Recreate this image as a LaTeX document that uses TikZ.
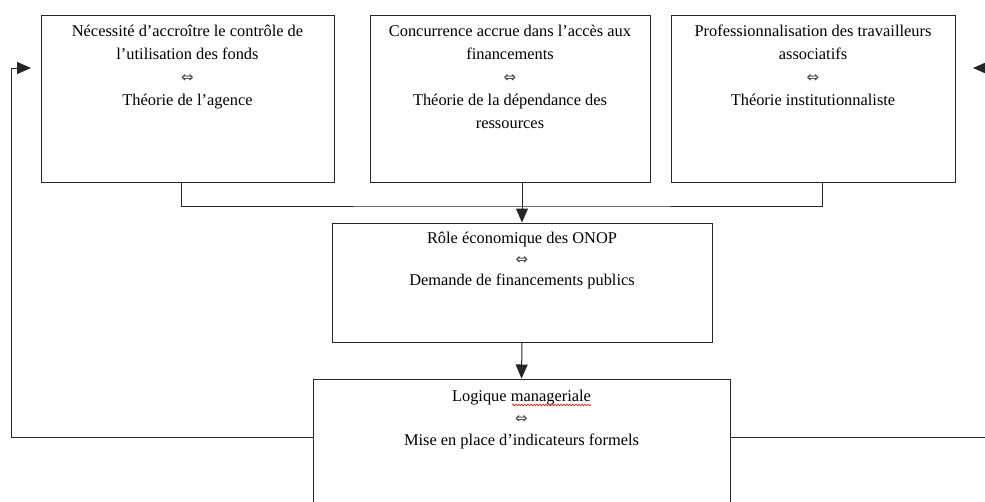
\documentclass[tikz,border=0pt]{standalone}
\usepackage{fontspec}
\setmainfont{Liberation Serif}
\newfontfamily\symfont{DejaVu Sans}
\usetikzlibrary{arrows.meta,decorations.pathmorphing}
\newcommand{\eqvsym}{{\symfont\fontsize{15}{13}\selectfont\color{black!75}⇔}}
\tikzset{
  box/.style={draw=black!85, line width=1pt, rectangle, inner sep=0pt},
  txt/.style={anchor=north, inner sep=0pt, align=center, font=\fontsize{16.4}{23}\selectfont},
  link/.style={line width=1pt, draw=black!85},
  arr/.style={link, -{Triangle[length=14pt,width=12pt]}},
}
\begin{document}
\begin{tikzpicture}[x=1pt,y=1pt]
\useasboundingbox (0,0) rectangle (985,-501);
\clip (0,0) rectangle (985,-501);
% boxes
\node[box, minimum width=293pt, minimum height=167pt] (b1) at (187.5,-98.5) {};
\node[box, minimum width=280pt, minimum height=167pt] (b2) at (510,-98.5) {};
\node[box, minimum width=284pt, minimum height=167pt] (b3) at (813,-98.5) {};
\node[box, minimum width=380pt, minimum height=119pt] (b4) at (522,-282.5) {};
\node[box, minimum width=417pt, minimum height=160pt] (b5) at (521.5,-459) {};
% texts
\node[txt] (t1) at ([yshift=-10pt]b1.north) {Nécessité d’accroître le contrôle de\\ l’utilisation des fonds\\ \eqvsym\\ Théorie de l’agence};
\node[txt] (t2) at ([yshift=-10pt]b2.north) {Concurrence accrue dans l’accès aux\\ financements\\ \eqvsym\\ Théorie de la dépendance des\\ ressources};
\node[txt] (t3) at ([yshift=-10pt]b3.north) {Professionnalisation des travailleurs\\ associatifs\\ \eqvsym\\ Théorie institutionnaliste};
\node[txt, font=\fontsize{16.4}{21}\selectfont] (t4) at ([yshift=-9pt]b4.north) {Rôle économique des ONOP\\ \eqvsym\\ Demande de financements publics};
\node[txt, font=\fontsize{16.4}{22}\selectfont] (t5) at ([yshift=-11pt]b5.north) {Logique manageriale\\ \eqvsym\\ Mise en place d’indicateurs formels};
% connectors
\coordinate (j) at (522,-206);
\draw[link] ([xshift=-6.5pt]b1.south) |- (j) -| ([xshift=9pt]b3.south);
\draw[arr] (b2.south -| b4.north) -- (b4.north);
\draw[arr] (b4.south) -- (b5.north);
\coordinate (lc) at (11,-437);
\coordinate (la) at (31,-68);
\draw[arr] (b5.west |- lc) -- (lc) |- (la);
\coordinate (rc) at (986,-437);
\draw[link] (b5.east |- rc) -- (rc);
\coordinate (rs) at (986,-68);
\coordinate (ra) at (973,-68);
\draw[arr] (rs) -- (ra);
% spell-check underline
\draw[red, line width=0.6pt, decorate, decoration={snake, amplitude=0.8pt, segment length=3pt}] (512,-405) -- (591,-405);
\end{tikzpicture}
\end{document}
